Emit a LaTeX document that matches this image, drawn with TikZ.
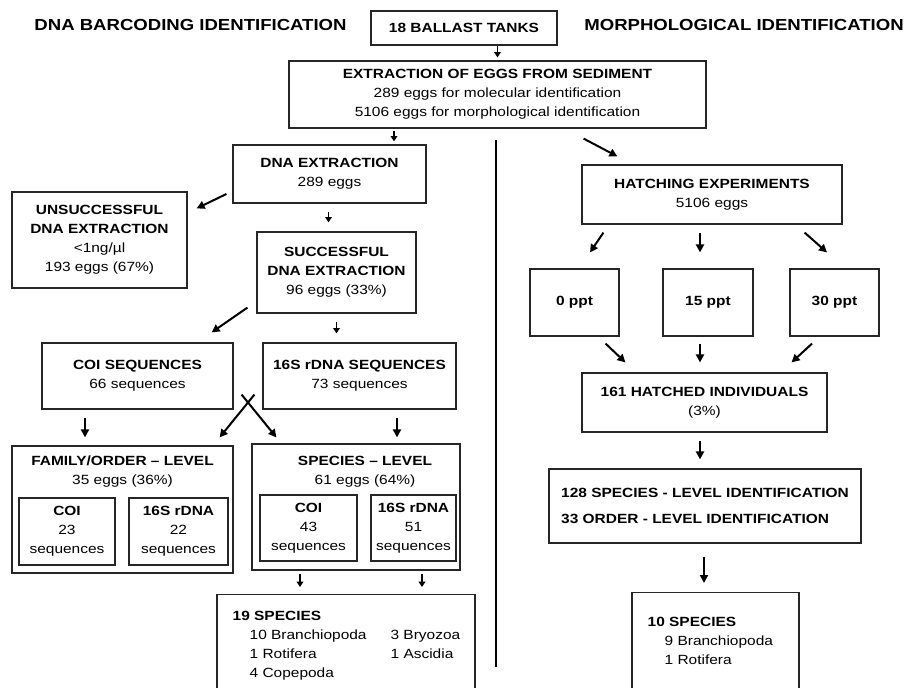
\documentclass[tikz,border=0pt]{standalone}
\usepackage{fontspec}
\setmainfont{Liberation Sans}[FakeStretch=1.16]
\usepackage{tikz}
\usetikzlibrary{arrows.meta,positioning}

\tikzset{
  box/.style={draw=black!85,line width=0.9pt,align=center,inner sep=2pt,
              font=\fontsize{10}{14.25}\selectfont},
  wh/.style 2 args={minimum width=#1*0.75pt,minimum height=#2*0.75pt},
  txt/.style={inner sep=0pt,align=center,font=\fontsize{10}{14.25}\selectfont},
  title/.style={font=\fontsize{12}{14}\selectfont\bfseries},
  arr/.style={->,line width=1.5pt},
  sarr/.style={-{Triangle[length=4pt,width=5pt]},line width=1pt}
}

\begin{document}
\begin{tikzpicture}[x=0.75pt,y=-0.75pt,>={Triangle[length=6pt,width=6pt]}]
  \useasboundingbox (0,0) rectangle (906,688);

  % titles
  \node[title] (dnatitle) at (190.5,25) {DNA BARCODING IDENTIFICATION};
  \node[title] (morphtitle) at (744,25) {MORPHOLOGICAL IDENTIFICATION};

  \node[box,wh={186}{34}] (tanks) at (464,28) {\textbf{18 BALLAST TANKS}};
  \node[box,wh={417}{67}] (extract) at (497.5,94.5)
      {\textbf{EXTRACTION OF EGGS FROM SEDIMENT}\\289 eggs for molecular identification\\5106 eggs for morphological identification};

  % DNA barcoding side
  \node[box,wh={193}{58}] (dnaext) at (329.5,174) {\textbf{DNA EXTRACTION}\\289 eggs};
  \node[box,wh={175}{96}] (unsucc) at (99.5,240)
      {\textbf{UNSUCCESSFUL}\\\textbf{DNA EXTRACTION}\\<1ng/µl\\193 eggs (67\%)};
  \node[box,wh={159}{81}] (succ) at (336.5,272.5)
      {\textbf{SUCCESSFUL}\\\textbf{DNA EXTRACTION}\\96 eggs (33\%)};
  \node[box,wh={191}{66}] (coiseq) at (137.5,376) {\textbf{COI SEQUENCES}\\66 sequences};
  \node[box,wh={193}{66}] (rdnaseq) at (359.5,376) {\textbf{16S rDNA SEQUENCES}\\73 sequences};

  \node[box,wh={221}{127}] (family) at (122.5,509.5) {};
  \node[txt] (familyhead) at ([shift={(0,26)}]family.north) {\textbf{FAMILY/ORDER – LEVEL}\\35 eggs (36\%)};
  \node[box,wh={96}{67}] (famcoi) at (67,531.5) {\textbf{COI}\\23\\sequences};
  \node[box,wh={99}{67}] (famrdna) at (178.5,531.5) {\textbf{16S rDNA}\\22\\sequences};

  \node[box,wh={208}{126}] (species) at (356,507) {};
  \node[txt] (specieshead) at ([shift={(9,28)}]species.north) {\textbf{SPECIES – LEVEL}\\61 eggs (64\%)};
  \node[box,wh={97}{66}] (spcoi) at (308.5,528) {\textbf{COI}\\43\\sequences};
  \node[box,wh={85}{66}] (sprdna) at (413.5,528) {\textbf{16S rDNA}\\51\\sequences};

  \node[box,wh={258}{110},anchor=north] (nineteen) at (346,594) {};
  \node[txt,anchor=north west,align=left] (nineteentxt) at ([shift={(16,13)}]nineteen.north west)
      {\begin{tabular}{@{}l@{\hspace{18pt}}l@{}}
        \multicolumn{2}{@{}l@{}}{\textbf{19 SPECIES}}\\
        \hspace*{12.75pt}10 Branchiopoda & 3 Bryozoa\\
        \hspace*{12.75pt}1 Rotifera & 1 Ascidia\\
        \hspace*{12.75pt}4 Copepoda &
       \end{tabular}};

  % morphological side
  \node[box,wh={260}{59}] (hatch) at (712,194.5) {\textbf{HATCHING EXPERIMENTS}\\5106 eggs};
  \node[box,wh={89}{67}] (ppt0) at (574.5,302.5) {\textbf{0 ppt}};
  \node[box,wh={90}{67}] (ppt15) at (708,302.5) {\textbf{15 ppt}};
  \node[box,wh={89}{67}] (ppt30) at (834.5,302.5) {\textbf{30 ppt}};
  \node[box,wh={245}{59}] (hatched) at (704.5,402.5) {\textbf{161 HATCHED INDIVIDUALS}\\(3\%)};
  \node[box,wh={312}{74},align=left] (ident) at (705,506)
      {\textbf{128 SPECIES - LEVEL IDENTIFICATION}\\[5pt]\textbf{33 ORDER - LEVEL IDENTIFICATION}};
  \node[box,wh={167}{110},anchor=north] (tenspecies) at (715.5,592) {};
  \node[txt,anchor=north west,align=left] (tentxt) at ([shift={(16,25)}]tenspecies.north west)
      {\textbf{10 SPECIES}\\\hspace*{12.75pt}9 Branchiopoda\\\hspace*{12.75pt}1 Rotifera};

  % divider
  \coordinate (divtop) at (496,140);
  \coordinate (divbot) at (496,667);
  \draw[line width=1.5pt] (divtop) -- (divbot);

  % arrows, left
  \draw[sarr] (tanks.south -| extract.north) -- ([shift={(0,-3)}]extract.north);
  \draw[sarr] ([shift={(-103.5,2)}]extract.south) -- ([shift={(64.5,-3)}]dnaext.north);
  \draw[arr] ([shift={(-6,20)}]dnaext.west) -- ([shift={(9,17)}]unsucc.north east);
  \draw[sarr] ([shift={(-1,8)}]dnaext.south) -- ([shift={(-8,-9)}]succ.north);
  \draw[arr] ([shift={(-9,-6)}]succ.south west) -- ([shift={(-22,-10)}]coiseq.north east);
  \draw[sarr] ([shift={(0,8)}]succ.south) -- ([shift={(-23,-9)}]rdnaseq.north);
  \draw[arr] ([shift={(-8,-15)}]rdnaseq.south west) -- ([shift={(-14,-8)}]family.north east);
  \draw[arr] ([shift={(8,-15)}]coiseq.south east) -- ([shift={(25,-6)}]species.north west);
  \draw[arr] ([shift={(-52.5,8)}]coiseq.south) -- ([shift={(-37.5,-8)}]family.north);
  \draw[arr] ([shift={(37.5,8)}]rdnaseq.south) -- ([shift={(41,-6)}]species.north);
  \draw[sarr] ([shift={(-56,3)}]species.south) -- ([shift={(-46,-7)}]nineteen.north);
  \draw[sarr] ([shift={(66,3)}]species.south) -- ([shift={(76,-7)}]nineteen.north);

  % arrows, right
  \draw[arr] ([shift={(-123,10)}]extract.south east) -- ([shift={(36,-8)}]hatch.north west);
  \draw[arr] ([shift={(22,8)}]hatch.south west) -- ([shift={(15.5,-16)}]ppt0.north);
  \draw[arr] ([shift={(-12,8)}]hatch.south) -- ([shift={(-8,-16)}]ppt15.north);
  \draw[arr] ([shift={(-38,8)}]hatch.south east) -- ([shift={(-7.5,-16)}]ppt30.north);
  \draw[arr] ([shift={(-14,7)}]ppt0.south east) -- ([shift={(44,-10)}]hatched.north west);
  \draw[arr] ([shift={(-8,7)}]ppt15.south) -- ([shift={(-4.5,-10)}]hatched.north);
  \draw[arr] ([shift={(-22.5,7)}]ppt30.south) -- ([shift={(-36,-10)}]hatched.north east);
  \draw[arr] ([shift={(-4.5,8)}]hatched.south) -- ([shift={(-5,-9)}]ident.north);
  \draw[arr] ([shift={(-1,13)}]ident.south) -- ([shift={(-11.5,-9)}]tenspecies.north);
\end{tikzpicture}
\end{document}
